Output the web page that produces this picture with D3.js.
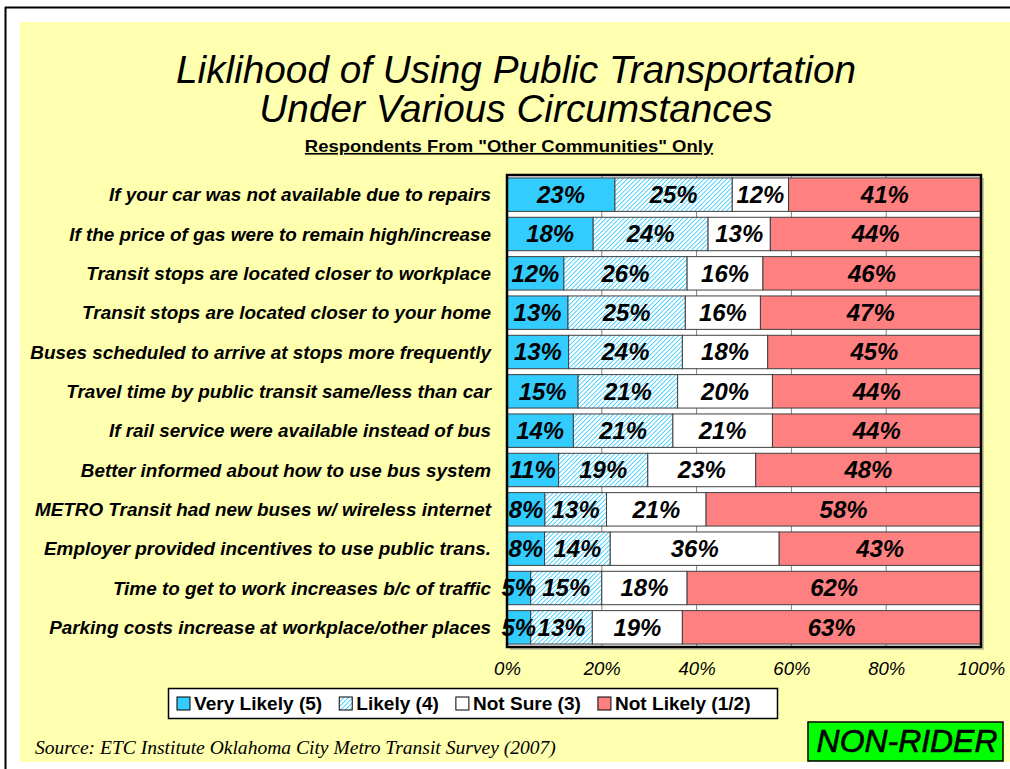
<!DOCTYPE html>
<html>
<head>
<meta charset="utf-8">
<script src="https://cdn.jsdelivr.net/npm/d3@7"></script>
<style>
  html, body { margin: 0; padding: 0; background: #ffffff; }
  svg { display: block; }
</style>
</head>
<body>
<svg id="chart" width="1010" height="769"></svg>
<script>
const categories = [
  "If your car was not available due to repairs",
  "If the price of gas were to remain high/increase",
  "Transit stops are located closer to workplace",
  "Transit stops are located closer to your home",
  "Buses scheduled to arrive at stops more frequently",
  "Travel time by public transit same/less than car",
  "If rail service were available instead of bus",
  "Better informed about how to use bus system",
  "METRO Transit had new buses w/ wireless internet",
  "Employer provided incentives to use public trans.",
  "Time to get to work increases b/c of traffic",
  "Parking costs increase at workplace/other places"
];
const seriesNames = ["Very Likely (5)", "Likely (4)", "Not Sure (3)", "Not Likely (1/2)"];
const veryLikely = [23, 18, 12, 13, 13, 15, 14, 11, 8, 8, 5, 5];
const likely     = [25, 24, 26, 25, 24, 21, 21, 19, 13, 14, 15, 13];
const notSure    = [12, 13, 16, 16, 18, 20, 21, 23, 21, 36, 18, 19];
const notLikely  = [41, 44, 46, 47, 45, 44, 44, 48, 58, 43, 62, 63];
const tickValues = [0, 0.2, 0.4, 0.6, 0.8, 1.0];
const titleLines = ["Liklihood of Using Public Transportation", "Under Various Circumstances"];
const subtitle = "Respondents From \"Other Communities\" Only";
const sourceText = "Source:  ETC Institute Oklahoma City Metro Transit Survey (2007)";
const badgeText = "NON-RIDER";

const seriesArrays = [veryLikely, likely, notSure, notLikely];
const keys = ["s0", "s1", "s2", "s3"];
const rows = categories.map((c, i) => {
  const r = { cat: c };
  keys.forEach((k, j) => r[k] = seriesArrays[j][i]);
  return r;
});

const svg = d3.select("#chart");
const defs = svg.append("defs");
const hatch = defs.append("pattern")
  .attr("id", "hatch").attr("patternUnits", "userSpaceOnUse")
  .attr("width", 3.2).attr("height", 3.2)
  .attr("patternTransform", "rotate(45)");
hatch.append("rect").attr("width", 3.2).attr("height", 3.2).attr("fill", "#ffffff");
hatch.append("line").attr("x1", 0).attr("y1", 0).attr("x2", 0).attr("y2", 3.2)
  .attr("stroke", "#33ccff").attr("stroke-width", 1.7);

const fills = ["#33ccff", "url(#hatch)", "#ffffff", "#ff8080"];
const sans = "'Liberation Sans', Arial, sans-serif";
const serif = "'Liberation Serif', 'Times New Roman', serif";

function sText(parent, x, y, sx, txt, anchor) {
  return parent.append("text")
    .attr("transform", `translate(${x},${y}) scale(${sx},1)`)
    .attr("x", 0).attr("y", 0)
    .attr("text-anchor", anchor || "start")
    .attr("fill", "#000").text(txt);
}

// frame
svg.append("line").attr("x1", 5).attr("y1", 7.5).attr("x2", 1010).attr("y2", 7.5)
  .attr("stroke", "#000").attr("stroke-width", 2);
svg.append("line").attr("x1", 5.5).attr("y1", 7).attr("x2", 5.5).attr("y2", 769)
  .attr("stroke", "#000").attr("stroke-width", 2);
svg.append("rect").attr("x", 20).attr("y", 22).attr("width", 990).attr("height", 740)
  .attr("fill", "#ffffb0");

// title
titleLines.forEach((t, i) => {
  sText(svg, 516, 83 + i * 39, 1.02, t, "middle")
    .attr("font-family", sans).attr("font-style", "italic").attr("font-size", 38);
});
sText(svg, 509, 152, 1.12, subtitle, "middle")
  .attr("font-family", sans).attr("font-weight", "bold").attr("font-size", 16.5)
  .attr("text-decoration", "underline");

// scales
const plotL = 507, plotR = 981, plotT = 175, plotB = 647;
const x = d3.scaleLinear().domain([0, 1]).range([plotL, plotR]);
const y = d3.scaleBand().domain(categories).range([plotT, plotB])
  .paddingInner(0.15).paddingOuter(0.075);

// plot shadow + background
svg.append("rect").attr("x", plotL + 3).attr("y", plotT + 3).attr("width", plotR - plotL)
  .attr("height", plotB - plotT).attr("fill", "#c8c8a0");
svg.append("rect").attr("x", plotL).attr("y", plotT).attr("width", plotR - plotL)
  .attr("height", plotB - plotT).attr("fill", "#ffffff");

// gridlines
svg.append("g").selectAll("line").data(tickValues.slice(1, -1)).join("line")
  .attr("x1", d => x(d)).attr("x2", d => x(d))
  .attr("y1", plotT).attr("y2", plotB)
  .attr("stroke", "#808080").attr("stroke-width", 1);

// stacked bars
const stack = d3.stack().keys(keys).offset(d3.stackOffsetExpand);
const stacked = stack(rows);
const gBars = svg.append("g");
stacked.forEach((layer, li) => {
  gBars.append("g").selectAll("rect").data(layer).join("rect")
    .attr("x", d => x(d[0]))
    .attr("y", d => y(d.data.cat))
    .attr("width", d => x(d[1]) - x(d[0]))
    .attr("height", y.bandwidth())
    .attr("fill", fills[li])
    .attr("stroke", "#404040").attr("stroke-width", 1);
});
stacked.forEach((layer, li) => {
  gBars.append("g").selectAll("text").data(layer).join("text")
    .attr("transform", d => `translate(${(x(d[0]) + x(d[1])) / 2},${y(d.data.cat) + y.bandwidth() / 2 + 8.3}) scale(1.04,1)`)
    .attr("text-anchor", "middle")
    .attr("font-family", sans).attr("font-weight", "bold").attr("font-style", "italic")
    .attr("font-size", 23).attr("fill", "#000")
    .text(d => d.data[keys[li]] + "%");
});

// plot border
svg.append("rect").attr("x", plotL).attr("y", plotT).attr("width", plotR - plotL)
  .attr("height", plotB - plotT).attr("fill", "none")
  .attr("stroke", "#000").attr("stroke-width", 2.5);

// category labels
svg.append("g").selectAll("text").data(categories).join("text")
  .attr("transform", d => `translate(491,${y(d) + y.bandwidth() / 2 + 6.5}) scale(1.05,1)`)
  .attr("text-anchor", "end")
  .attr("font-family", sans).attr("font-weight", "bold").attr("font-style", "italic")
  .attr("font-size", 18).attr("fill", "#000").text(d => d);

// x axis
const xAxis = d3.axisBottom(x).tickValues(tickValues).tickFormat(d3.format(".0%")).tickSize(0).tickPadding(15);
const gx = svg.append("g").attr("transform", `translate(0,${plotB})`).call(xAxis);
gx.select(".domain").remove();
gx.selectAll("text").attr("font-family", sans).attr("font-style", "italic")
  .attr("font-size", 18).attr("fill", "#000")
  .attr("transform", "scale(1.03,1)");

// legend
const lg = svg.append("g");
lg.append("rect").attr("x", 168.5).attr("y", 688.5).attr("width", 609).attr("height", 30)
  .attr("fill", "#ffffff").attr("stroke", "#000").attr("stroke-width", 1.5);
let lx = 177;
const lsx = 1.06;
seriesNames.forEach((name, i) => {
  lg.append("rect").attr("x", lx).attr("y", 697).attr("width", 13).attr("height", 13)
    .attr("fill", fills[i]).attr("stroke", "#000").attr("stroke-width", 1);
  const t = sText(lg, lx + 17, 710, lsx, name, "start")
    .attr("font-family", sans).attr("font-weight", "bold").attr("font-size", 18);
  lx += 17 + t.node().getComputedTextLength() * lsx + 17;
});

// source
sText(svg, 35, 754, 1.03, sourceText, "start")
  .attr("font-family", serif).attr("font-style", "italic").attr("font-size", 19);

// badge
svg.append("rect").attr("x", 808).attr("y", 722).attr("width", 195).attr("height", 39)
  .attr("fill", "#00ff00").attr("stroke", "#000").attr("stroke-width", 1.5);
sText(svg, 907, 752, 1.03, badgeText, "middle")
  .attr("font-family", sans).attr("font-style", "italic").attr("font-size", 31)
  .attr("stroke", "#000").attr("stroke-width", 0.6);
</script>
</body>
</html>
